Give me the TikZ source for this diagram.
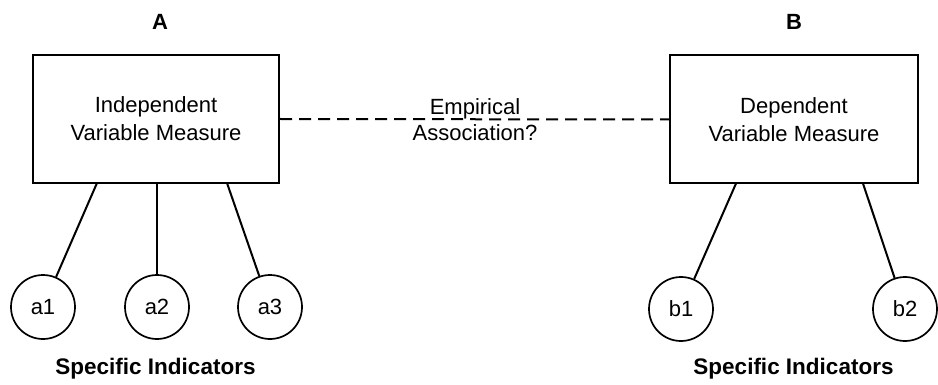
\documentclass[tikz,border=0pt]{standalone}
\usepackage{fontspec}
\setmainfont{Liberation Sans}
\begin{document}
\begin{tikzpicture}[x=1pt,y=-1pt,
  line width=2pt,
  measure/.style={draw, rectangle, minimum width=246pt, minimum height=128pt, align=center, inner sep=0pt,
    line width=2pt, font=\fontsize{22}{28}\selectfont},
  indicator/.style={draw, circle, minimum size=64pt, inner sep=0pt, line width=1.7pt, font=\fontsize{22}{26}\selectfont},
  title/.style={font=\fontsize{22}{26}\selectfont\bfseries},
  caption/.style={font=\fontsize{22.5}{26}\selectfont\bfseries},
  link/.style={line width=2pt},
  assoc/.style={line width=2pt, dash pattern=on 12pt off 7pt}
]
\useasboundingbox (0,0) rectangle (938,385);

\node[title] (tA) at (160,22) {A};
\node[title] (tB) at (794,22) {B};

\node[measure] (A) at (156,119) {Independent\\Variable Measure};
\node[measure, minimum width=248pt] (B) at (794,119.5) {Dependent\\Variable Measure};

\draw[assoc] (A.east) -- (B.west);
\node[align=center, font=\fontsize{22}{26}\selectfont] (emp) at (475,120) {Empirical\\Association?};

\node[indicator] (a1) at (43,307) {a1};
\node[indicator] (a2) at (157,307) {a2};
\node[indicator] (a3) at (270,307) {a3};
\node[indicator] (b1) at (681,309) {b1};
\node[indicator] (b2) at (905,309) {b2};

\coordinate (pa1) at (97,183);
\coordinate (pa2) at (157,183);
\coordinate (pa3) at (227,183);
\coordinate (pb1) at (736,183.5);
\coordinate (pb2) at (863,183.5);

\draw[link] (pa1) -- (a1);
\draw[link] (pa2) -- (a2);
\draw[link] (pa3) -- (a3);
\draw[link] (pb1) -- (b1);
\draw[link] (pb2) -- (b2);

\node[caption] (cA) at (155.5,369) {Specific Indicators};
\node[caption] (cB) at (793.5,369) {Specific Indicators};
\end{tikzpicture}
\end{document}
